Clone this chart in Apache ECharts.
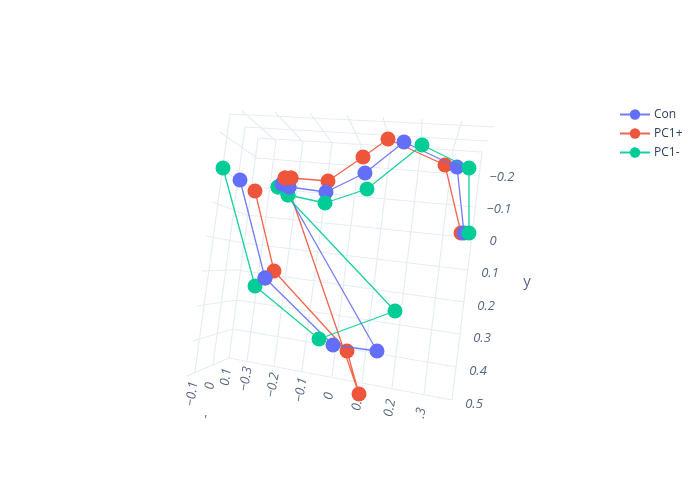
<!DOCTYPE html>
<html><head><meta charset="utf-8">
<style>html,body{margin:0;padding:0;background:#fff}#c{width:700px;height:500px}</style>
<script src="https://cdn.jsdelivr.net/npm/echarts@6/dist/echarts.min.js"></script>
</head><body><div id="c"></div>
<script>
// Readings in the picture plane of the 3D view
var conH = [240,265,333,377,282,289,326,365,404,457,464];
var conV = [180,278,345,351,184,187,192,173,142,167,233];
var posH = [255,274,347,359,285,291,328,363,388,445,461];
var posV = [191,271,351,394,178,178,181,157,139,165,233];
var negH = [223,255,319,395,278,288,325,367,422,469,469];
var negV = [168,286,339,311,187,195,203,189,145,168,233];
var seriesNames = ['Con','PC1+','PC1-'];
var seriesColors = ['#636efa','#EF553B','#00cc96'];

// points that sit in front of the others in depth: green, then blue, then red
var frontNeg = [[278,187],[288,195]];
var frontCon = [[282,184],[289,187],[265,278]];
var frontPos = [[285,178],[291,178]];

var yTicks = ['\u22120.2','\u22120.1','0','0.1','0.2','0.3','0.4','0.5'];
var yTickH = [502,499,493,490,486,482,478,474];
var yTickV = [177,209,241,273,306,338,371,404];
var xTicks = ['\u22120.3','\u22120.2','\u22120.1','0','0.1','0.2','.3'];
var xTickH = [246,273,301,329,358,390,421];
var xTickV = [379,385,390,396,402,408,413];
var zTicks = ['\u22120.1','0','0.1'];
var zTickH = [192,210,226];
var zTickV = [394,386,377];

var gridLines = [
  // top plane, along the wide side
  [230,114,495,127],[245,127,488,141],[258,138,482,152],
  // top plane, x ticks
  [242,111,276,141],[275,112,303,142],[310,113,332,143],[347,115,361,145],[383,117,391,146],[422,119,421,148],[462,121,453,150],
  // left plane, z ticks
  [230,114,195,372],[245,127,213,365],[258,138,229,358],
  // left plane, y ticks
  [220,132,257,158],[216,167,252,187],[212,202,247,215],[206,236,243,243],[202,271,237,270],[197,306,237,300],[193,341,233,329],[187,376,229,358],
  // back plane, y ticks
  [257,158,480,176],[252,187,476,207],[247,215,472,238],[243,243,468,270],[237,270,464,302],[237,300,460,334],[233,329,456,367],[229,358,452,400],
  // back plane, x ticks
  [276,141,247,361],[303,142,274,366],[332,143,302,371],[361,145,332,376],[391,146,362,382],[421,148,392,387],[453,150,424,394],
  [482,152,452,400]
];

function zip(a,b){return a.map(function(v,i){return [v,b[i]];});}
function labelled(h,v,t,rot,style,size){
  return {type:'scatter',silent:true,symbolSize:0,z:3,
    data:h.map(function(x,i){return {value:[x,v[i]],txt:t[i]};}),
    label:{show:true,position:'inside',rotate:rot,formatter:function(p){return p.data.txt;},
      color:'#2a3f5f',fontFamily:'"Open Sans",sans-serif',fontSize:size||13,fontStyle:style||'italic'}};
}
var gridData=[];
gridLines.forEach(function(s){gridData.push([s[0],s[1]],[s[2],s[3]],[null,null]);});

function main(name,h,v,color,z){
  return {type:'line',name:name,data:zip(h,v),z:z,symbol:'circle',symbolSize:15,showAllSymbol:true,
    lineStyle:{color:color,width:1.3,opacity:0.9},itemStyle:{color:color,opacity:1},emphasis:{disabled:true}};
}
function front(pts,color,z){
  return {type:'scatter',silent:true,data:pts,z:z,symbolSize:15,itemStyle:{color:color,opacity:1}};
}
var chart=echarts.init(document.getElementById('c'),null,{renderer:'canvas'});
chart.setOption({
  animation:false,
  backgroundColor:'#fff',
  grid:{left:0,right:0,top:0,bottom:0},
  xAxis:{type:'value',min:0,max:700,show:false},
  yAxis:{type:'value',min:0,max:500,inverse:true,show:false},
  tooltip:{show:false},
  legend:{show:true,orient:'vertical',left:614,top:103,itemWidth:30,itemHeight:13,itemGap:6,
    data:seriesNames,selectedMode:false,
    textStyle:{color:'#2a3f5f',fontFamily:'"Open Sans",sans-serif',fontSize:12,padding:[0,0,0,-1],lineHeight:13}},
  series:[
    {type:'line',silent:true,z:1,symbol:'none',connectNulls:false,data:gridData,
      lineStyle:{color:'#e6ecf5',width:1.2}},
    labelled(yTickH,yTickV,yTicks,0),
    labelled(xTickH,xTickV,xTicks,80),
    labelled(zTickH,zTickV,zTicks,82),
    labelled([527],[282],['y'],0,'normal',15),
    labelled([205],[420],["'"],0),
    main(seriesNames[1],posH,posV,seriesColors[1],5),
    main(seriesNames[0],conH,conV,seriesColors[0],6),
    main(seriesNames[2],negH,negV,seriesColors[2],7),
    front(frontNeg,seriesColors[2],8),
    front(frontCon,seriesColors[0],9),
    front(frontPos,seriesColors[1],10)
  ]
});
</script></body></html>
